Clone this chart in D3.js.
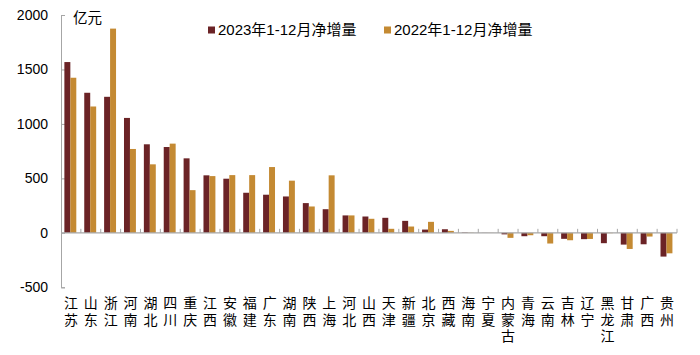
<!DOCTYPE html>
<html><head><meta charset="utf-8">
<script src="https://cdn.jsdelivr.net/npm/d3@7/dist/d3.min.js"></script>
<style>
html,body{margin:0;padding:0;background:#fff;}
svg{display:block;font-family:"Liberation Sans",Arial,"Noto Sans CJK SC",sans-serif;}
</style></head>
<body><svg id="chart" width="700" height="355"></svg>
<script>
const categories = ["江苏","山东","浙江","河南","湖北","四川","重庆","江西","安徽","福建","广东","湖南","陕西","上海","河北","山西","天津","新疆","北京","西藏","海南","宁夏","内蒙古","青海","云南","吉林","辽宁","黑龙江","甘肃","广西","贵州"];
const series = ["2023年1-12月净增量","2022年1-12月净增量"];
const values2023 = [1568,1286,1249,1055,813,788,684,528,497,368,350,334,273,217,160,150,138,110,30,33,4,1,-14,-31,-31,-55,-58,-95,-108,-105,-218];
const values2022 = [1424,1160,1875,770,629,819,392,521,530,530,604,479,242,528,160,129,37,58,101,18,2,1,-46,-22,-98,-68,-56,-3,-148,-34,-188];
const yTicks = [-500,0,500,1000,1500,2000];
const colors = ["#6B2326","#C48A33"];

const svg = d3.select("#chart");
const mLeft = 61, mRight = 677, mTop = 15, mBottom = 287.3;

const x = d3.scaleBand().domain(categories).range([mLeft, mRight]).padding(0);
const x1 = d3.scaleBand().domain(series).range([x.bandwidth()*0.17, x.bandwidth()*0.77]).padding(0);
const y = d3.scaleLinear().domain([-500, 2000]).range([mBottom, mTop]);

// y axis
const yAxis = d3.axisLeft(y).tickValues(yTicks).tickSize(-4).tickPadding(13).tickFormat(d => d < 0 ? "-" + Math.abs(d) : d);
const ga = svg.append("g").attr("transform", `translate(${mLeft},0)`).call(yAxis);
ga.select(".domain").attr("stroke", "#A6A6A6").attr("stroke-width", 1);
ga.selectAll(".tick line").attr("stroke", "#A6A6A6");
ga.selectAll(".tick text").attr("font-size", 14).attr("fill", "#000").attr("font-family", "'Liberation Sans',Arial,sans-serif");

// unit
svg.append("text").attr("x", 73).attr("y", 23).attr("font-size", 14.5)
  .attr("font-family", "'Noto Sans CJK SC',sans-serif").attr("fill", "#000").text("亿元");

// bars
const data = categories.map((c, i) => ({cat: c, vals: [values2023[i], values2022[i]]}));
const g = svg.append("g");
data.forEach(d => {
  series.forEach((s, j) => {
    const v = d.vals[j];
    g.append("rect")
      .attr("x", x(d.cat) + x1(s))
      .attr("width", x1.bandwidth())
      .attr("y", y(Math.max(0, v)))
      .attr("height", Math.abs(y(v) - y(0)))
      .attr("fill", colors[j]);
  });
});

// zero line + category boundary ticks
svg.append("line").attr("x1", mLeft).attr("x2", mRight).attr("y1", y(0)).attr("y2", y(0))
  .attr("stroke", "#A6A6A6").attr("stroke-width", 1.2);
const bounds = categories.map(c => x(c)).concat([x.range()[1]]);
svg.append("g").selectAll("line").data(bounds.slice(1)).join("line")
  .attr("x1", d => d).attr("x2", d => d).attr("y1", y(0)).attr("y2", y(0) - 4)
  .attr("stroke", "#A6A6A6");

// category labels, vertical (one character per line)
const lab = svg.append("g").attr("font-family", "'Noto Sans CJK SC',sans-serif").attr("font-size", 14).attr("fill", "#000");
categories.forEach(c => {
  lab.append("text")
    .attr("x", x(c) + x.bandwidth()/2)
    .attr("y", 296)
    .style("writing-mode", "vertical-rl")
    .style("text-orientation", "upright")
    .style("letter-spacing", "2.5px")
    .text(c);
});

// legend
const lg = svg.append("g").attr("font-family", "'Liberation Sans',Arial,'Noto Sans CJK SC',sans-serif").attr("font-size", 15);
const legX = [208, 384];
series.forEach((s, j) => {
  lg.append("rect").attr("x", legX[j]).attr("y", 26.5).attr("width", 7).attr("height", 7).attr("fill", colors[j]);
  lg.append("text").attr("x", legX[j] + 10).attr("y", 35).attr("fill", "#000").text(s);
});
</script></body></html>
